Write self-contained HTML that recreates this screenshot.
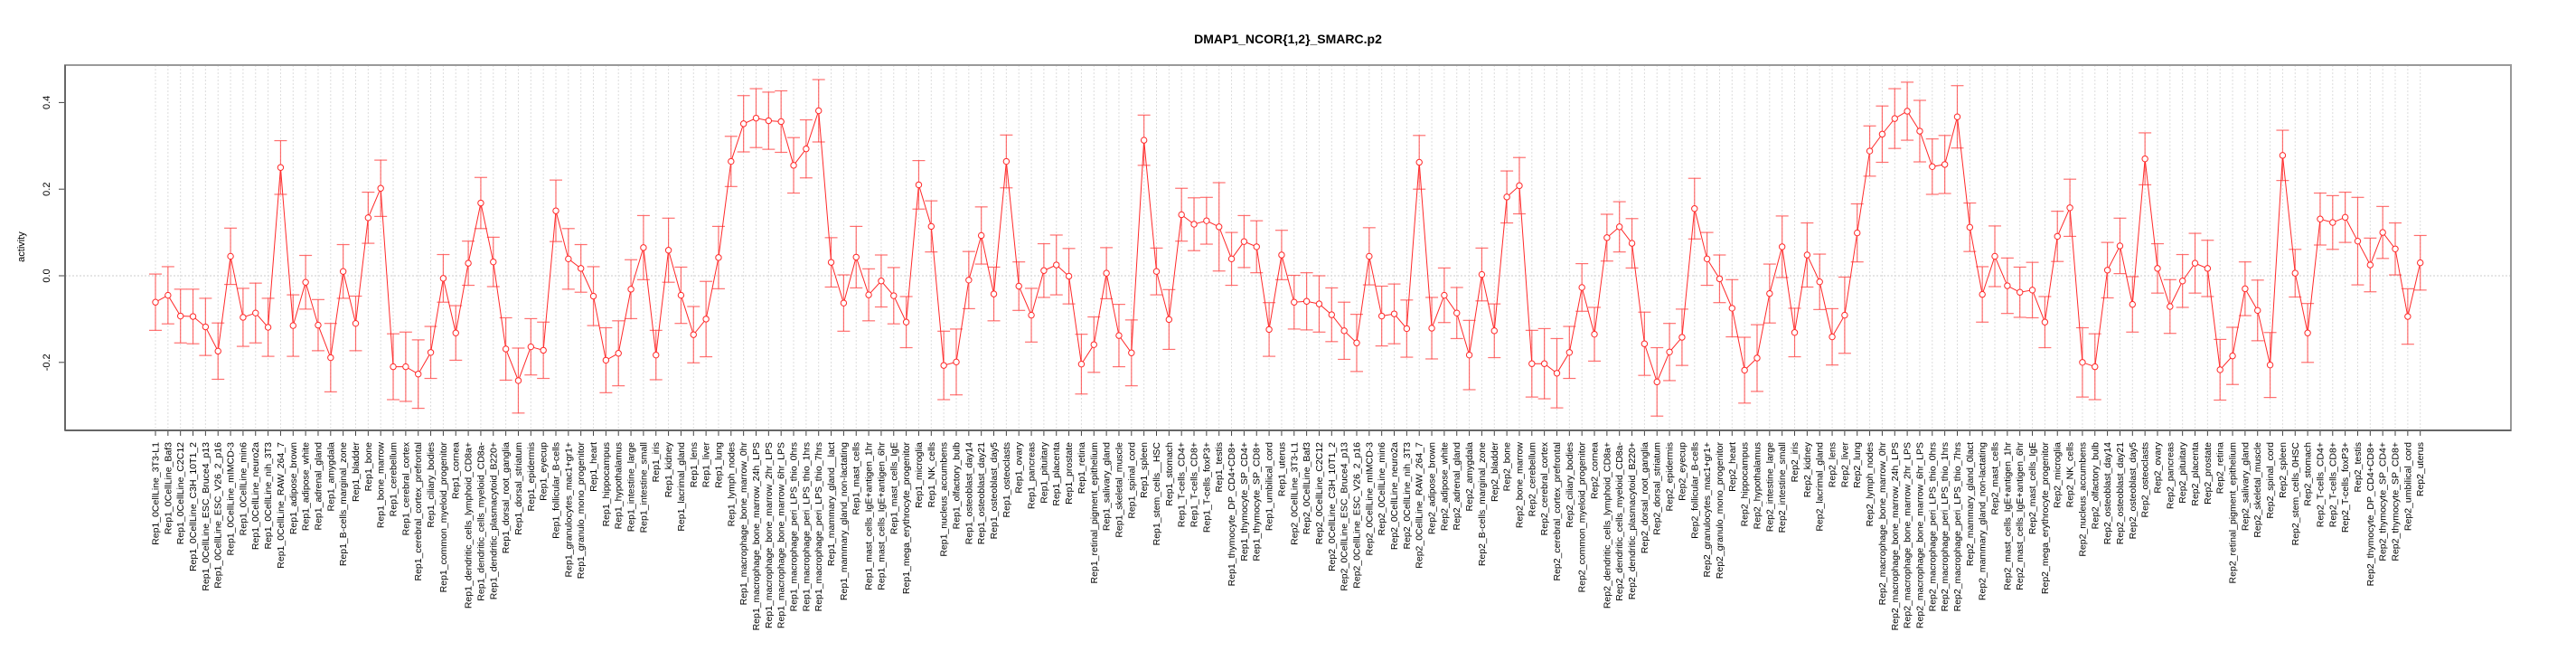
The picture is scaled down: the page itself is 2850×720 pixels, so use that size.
<!DOCTYPE html>
<html><head><meta charset="utf-8"><style>
html,body{margin:0;padding:0;background:#fff;}
svg{display:block;font-family:"Liberation Sans",Arial,sans-serif;}
</style></head>
<body>
<svg id="chart" width="2850" height="720" viewBox="0 0 2850 720" xmlns="http://www.w3.org/2000/svg">
<text x="1425" y="48" text-anchor="middle" font-size="14" font-weight="bold">DMAP1_NCOR{1,2}_SMARC.p2</text>
<text transform="translate(27,273) rotate(-90)" text-anchor="middle" font-size="11">activity</text>
<g id="grid"></g>
<g id="yaxis"></g>
<g id="xaxis"></g>
<g id="series"></g>
<rect x="72" y="72" width="2706" height="404" fill="none" stroke="#999" stroke-width="2"/>
<line x1="72" y1="72" x2="72" y2="476" stroke="#666" stroke-width="2"/>
<line x1="72" y1="476" x2="2778" y2="476" stroke="#666" stroke-width="2"/>
</svg>
<script>
const categories = ["Rep1_0CellLine_3T3-L1","Rep1_0CellLine_Baf3","Rep1_0CellLine_C2C12","Rep1_0CellLine_C3H_10T1_2","Rep1_0CellLine_ESC_Bruce4_p13","Rep1_0CellLine_ESC_V26_2_p16","Rep1_0CellLine_mIMCD-3","Rep1_0CellLine_min6","Rep1_0CellLine_neuro2a","Rep1_0CellLine_nih_3T3","Rep1_0CellLine_RAW_264_7","Rep1_adipose_brown","Rep1_adipose_white","Rep1_adrenal_gland","Rep1_amygdala","Rep1_B-cells_marginal_zone","Rep1_bladder","Rep1_bone","Rep1_bone_marrow","Rep1_cerebellum","Rep1_cerebral_cortex","Rep1_cerebral_cortex_prefrontal","Rep1_ciliary_bodies","Rep1_common_myeloid_progenitor","Rep1_cornea","Rep1_dendritic_cells_lymphoid_CD8a+","Rep1_dendritic_cells_myeloid_CD8a-","Rep1_dendritic_plasmacytoid_B220+","Rep1_dorsal_root_ganglia","Rep1_dorsal_striatum","Rep1_epidermis","Rep1_eyecup","Rep1_follicular_B-cells","Rep1_granulocytes_mac1+gr1+","Rep1_granulo_mono_progenitor","Rep1_heart","Rep1_hippocampus","Rep1_hypothalamus","Rep1_intestine_large","Rep1_intestine_small","Rep1_iris","Rep1_kidney","Rep1_lacrimal_gland","Rep1_lens","Rep1_liver","Rep1_lung","Rep1_lymph_nodes","Rep1_macrophage_bone_marrow_0hr","Rep1_macrophage_bone_marrow_24h_LPS","Rep1_macrophage_bone_marrow_2hr_LPS","Rep1_macrophage_bone_marrow_6hr_LPS","Rep1_macrophage_peri_LPS_thio_0hrs","Rep1_macrophage_peri_LPS_thio_1hrs","Rep1_macrophage_peri_LPS_thio_7hrs","Rep1_mammary_gland__lact","Rep1_mammary_gland_non-lactating","Rep1_mast_cells","Rep1_mast_cells_IgE+antigen_1hr","Rep1_mast_cells_IgE+antigen_6hr","Rep1_mast_cells_IgE","Rep1_mega_erythrocyte_progenitor","Rep1_microglia","Rep1_NK_cells","Rep1_nucleus_accumbens","Rep1_olfactory_bulb","Rep1_osteoblast_day14","Rep1_osteoblast_day21","Rep1_osteoblast_day5","Rep1_osteoclasts","Rep1_ovary","Rep1_pancreas","Rep1_pituitary","Rep1_placenta","Rep1_prostate","Rep1_retina","Rep1_retinal_pigment_epithelium","Rep1_salivary_gland","Rep1_skeletal_muscle","Rep1_spinal_cord","Rep1_spleen","Rep1_stem_cells__HSC","Rep1_stomach","Rep1_T-cells_CD4+","Rep1_T-cells_CD8+","Rep1_T-cells_foxP3+","Rep1_testis","Rep1_thymocyte_DP_CD4+CD8+","Rep1_thymocyte_SP_CD4+","Rep1_thymocyte_SP_CD8+","Rep1_umbilical_cord","Rep1_uterus",
"Rep2_0CellLine_3T3-L1","Rep2_0CellLine_Baf3","Rep2_0CellLine_C2C12","Rep2_0CellLine_C3H_10T1_2","Rep2_0CellLine_ESC_Bruce4_p13","Rep2_0CellLine_ESC_V26_2_p16","Rep2_0CellLine_mIMCD-3","Rep2_0CellLine_min6","Rep2_0CellLine_neuro2a","Rep2_0CellLine_nih_3T3","Rep2_0CellLine_RAW_264_7","Rep2_adipose_brown","Rep2_adipose_white","Rep2_adrenal_gland","Rep2_amygdala","Rep2_B-cells_marginal_zone","Rep2_bladder","Rep2_bone","Rep2_bone_marrow","Rep2_cerebellum","Rep2_cerebral_cortex","Rep2_cerebral_cortex_prefrontal","Rep2_ciliary_bodies","Rep2_common_myeloid_progenitor","Rep2_cornea","Rep2_dendritic_cells_lymphoid_CD8a+","Rep2_dendritic_cells_myeloid_CD8a-","Rep2_dendritic_plasmacytoid_B220+","Rep2_dorsal_root_ganglia","Rep2_dorsal_striatum","Rep2_epidermis","Rep2_eyecup","Rep2_follicular_B-cells","Rep2_granulocytes_mac1+gr1+","Rep2_granulo_mono_progenitor","Rep2_heart","Rep2_hippocampus","Rep2_hypothalamus","Rep2_intestine_large","Rep2_intestine_small","Rep2_iris","Rep2_kidney","Rep2_lacrimal_gland","Rep2_lens","Rep2_liver","Rep2_lung","Rep2_lymph_nodes","Rep2_macrophage_bone_marrow_0hr","Rep2_macrophage_bone_marrow_24h_LPS","Rep2_macrophage_bone_marrow_2hr_LPS","Rep2_macrophage_bone_marrow_6hr_LPS","Rep2_macrophage_peri_LPS_thio_0hrs","Rep2_macrophage_peri_LPS_thio_1hrs","Rep2_macrophage_peri_LPS_thio_7hrs","Rep2_mammary_gland_0lact","Rep2_mammary_gland_non-lactating","Rep2_mast_cells","Rep2_mast_cells_IgE+antigen_1hr","Rep2_mast_cells_IgE+antigen_6hr","Rep2_mast_cells_IgE","Rep2_mega_erythrocyte_progenitor","Rep2_microglia","Rep2_NK_cells","Rep2_nucleus_accumbens","Rep2_olfactory_bulb","Rep2_osteoblast_day14","Rep2_osteoblast_day21","Rep2_osteoblast_day5","Rep2_osteoclasts","Rep2_ovary","Rep2_pancreas","Rep2_pituitary","Rep2_placenta","Rep2_prostate","Rep2_retina","Rep2_retinal_pigment_epithelium","Rep2_salivary_gland","Rep2_skeletal_muscle","Rep2_spinal_cord","Rep2_spleen","Rep2_stem_cells_0HSC","Rep2_stomach","Rep2_T-cells_CD4+","Rep2_T-cells_CD8+","Rep2_T-cells_foxP3+","Rep2_testis","Rep2_thymocyte_DP_CD4+CD8+","Rep2_thymocyte_SP_CD4+","Rep2_thymocyte_SP_CD8+","Rep2_umbilical_cord","Rep2_uterus"];
const activity = [-0.061,-0.045,-0.093,-0.094,-0.118,-0.174,0.045,-0.096,-0.086,-0.119,
0.25,-0.115,-0.015,-0.114,-0.189,0.010,-0.110,0.134,0.202,-0.21,
-0.21,-0.227,-0.177,-0.006,-0.132,0.029,0.168,0.032,-0.169,-0.242,
-0.164,-0.172,0.150,0.039,0.017,-0.047,-0.195,-0.179,-0.031,0.065,
-0.183,0.059,-0.045,-0.136,-0.100,0.042,0.264,0.351,0.364,0.358,
0.356,0.255,0.293,0.381,0.031,-0.063,0.043,-0.044,-0.012,-0.046,
-0.107,0.210,0.114,-0.207,-0.199,-0.010,0.093,-0.042,0.264,-0.024,
-0.091,0.012,0.025,-0.001,-0.204,-0.159,0.006,-0.138,-0.178,0.313,
0.010,-0.101,0.141,0.119,0.127,0.113,0.039,0.079,0.067,-0.124,
0.048,
-0.061,-0.059,-0.065,-0.090,-0.127,-0.155,0.045,-0.093,-0.088,-0.122,
0.262,-0.121,-0.045,-0.086,-0.183,0.003,-0.127,0.182,0.208,-0.203,
-0.203,-0.225,-0.177,-0.027,-0.135,0.088,0.113,0.075,-0.157,-0.245,
-0.176,-0.142,0.155,0.039,-0.007,-0.075,-0.218,-0.190,-0.041,0.067,
-0.131,0.048,-0.014,-0.141,-0.091,0.099,0.288,0.327,0.363,0.380,
0.334,0.252,0.257,0.367,0.112,-0.043,0.045,-0.023,-0.038,-0.033,
-0.107,0.091,0.157,-0.200,-0.210,0.013,0.069,-0.066,0.270,0.017,
-0.071,-0.012,0.029,0.017,-0.217,-0.185,-0.030,-0.080,-0.206,0.278,
0.006,-0.132,0.131,0.123,0.135,0.080,0.025,0.100,0.062,-0.094,
0.030];
const errorHalf = [.065,.066,.062,.063,.066,.065,.065,.067,.069,.067,
.062,.071,.062,.059,.079,.062,.063,.059,.065,.076,
.080,.079,.060,.055,.063,.051,.059,.057,.072,.075,
.065,.065,.071,.070,.055,.068,.075,.075,.068,.074,
.057,.074,.065,.065,.087,.072,.058,.065,.068,.066,
.071,.064,.067,.072,.057,.065,.071,.060,.060,.065,
.059,.056,.059,.079,.076,.066,.066,.062,.061,.056,
.062,.062,.069,.064,.069,.064,.059,.072,.076,.058,
.054,.069,.061,.061,.054,.102,.061,.060,.060,.062,
.057,
.062,.066,.065,.062,.066,.066,.066,.069,.069,.066,
.062,.071,.063,.059,.080,.061,.062,.060,.065,.077,
.081,.080,.060,.055,.062,.054,.058,.057,.073,.079,
.066,.065,.070,.061,.055,.066,.076,.077,.068,.071,
.056,.074,.064,.065,.088,.067,.058,.065,.069,.067,
.071,.064,.067,.072,.056,.064,.070,.064,.058,.064,
.059,.058,.066,.080,.076,.064,.064,.064,.060,.057,
.062,.061,.069,.065,.070,.066,.062,.070,.075,.058,
.055,.068,.060,.062,.058,.101,.062,.060,.060,.064,
.063];
const yTicks = [-0.2, 0.0, 0.2, 0.4];
const yTickLabels = ["-0.2","0.0","0.2","0.4"];

const NS = "http://www.w3.org/2000/svg";
const X0 = 172, X1 = 2677.7;
function xPos(i){ return X0 + i * (X1 - X0) / (categories.length - 1); }
function yPos(v){ return 305 - v * 479; }
function mk(tag, attrs, parent){
  const el = document.createElementNS(NS, tag);
  for (const k in attrs) el.setAttribute(k, attrs[k]);
  parent.appendChild(el);
  return el;
}
const grid = document.getElementById('grid');
const yaxis = document.getElementById('yaxis');
const xaxis = document.getElementById('xaxis');
const series = document.getElementById('series');

// horizontal zero line
const zl = mk('line', {x1:72, x2:2778, y1:yPos(0), y2:yPos(0), stroke:'#ccc', 'stroke-dasharray':'2,2'}, grid);



yTicks.forEach((t, k) => {
  const tl = mk('line', {x1:65, x2:72, y1:yPos(t), y2:yPos(t), stroke:'#444'}, yaxis);
  
  
  const tx = mk('text', {transform:`translate(55,${yPos(t)}) rotate(-90)`, 'text-anchor':'middle', 'font-size':'11'}, yaxis);
  tx.textContent = yTickLabels[k];
  
  
});

categories.forEach((c, i) => {
  const x = xPos(i);
  const g = mk('line', {x1:x, x2:x, y1:72, y2:476, stroke:'#ddd', 'stroke-dasharray':'2,2'}, grid);
  
  
  const t = mk('line', {x1:x, x2:x, y1:476, y2:482, stroke:'#444'}, xaxis);
  
  
  const lb = mk('text', {transform:`translate(${x + 3.5},489) rotate(-90)`, 'text-anchor':'end', 'font-size':'10.5'}, xaxis);
  lb.textContent = c;
  
  
});

// error bars
activity.forEach((v, i) => {
  const x = xPos(i);
  const top = yPos(v + errorHalf[i]), bot = yPos(v - errorHalf[i]);
  const eg = mk('g', {stroke:'#ff4040', 'stroke-opacity':'0.75', 'stroke-width':'1.2'}, series);
  
  
  mk('line', {x1:x, x2:x, y1:top, y2:bot}, eg);
  mk('line', {x1:x - 7, x2:x + 7, y1:top, y2:top}, eg);
  mk('line', {x1:x - 7, x2:x + 7, y1:bot, y2:bot}, eg);
});

// connecting line
const pts = activity.map((v, i) => `${xPos(i).toFixed(2)},${yPos(v).toFixed(2)}`).join(' ');
const pl = mk('polyline', {points:pts, fill:'none', stroke:'#ff2a2a', 'stroke-width':'1'}, series);



activity.forEach((v, i) => {
  const p = mk('circle', {cx:xPos(i), cy:yPos(v), r:3.2, fill:'#fff', stroke:'#ff2a2a', 'stroke-width':'1'}, series);
  
  
});
</script>
</body></html>
